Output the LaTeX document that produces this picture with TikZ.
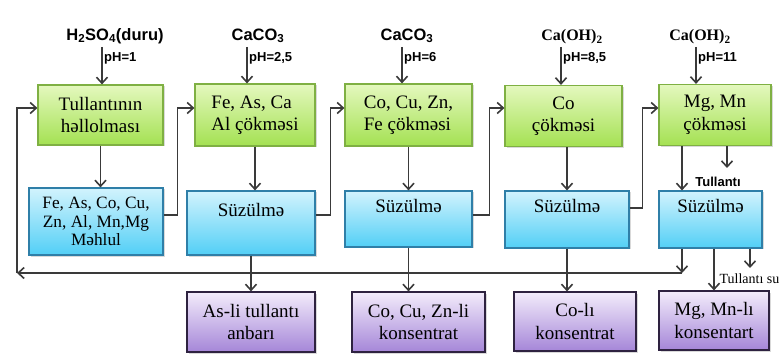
\documentclass[tikz,border=0pt]{standalone}
\usepackage{fontspec}
\setmainfont{Liberation Serif}
\setsansfont{Liberation Sans}
\usetikzlibrary{arrows.meta,shadows}

\definecolor{gtop}{HTML}{E4F8BE}
\definecolor{gbot}{HTML}{A4E152}
\definecolor{gline}{HTML}{7FB043}
\definecolor{btop}{HTML}{D2F3FD}
\definecolor{bbot}{HTML}{52CFF6}
\definecolor{bline}{HTML}{2F7FA8}
\definecolor{ptop}{HTML}{F3ECFB}
\definecolor{pbot}{HTML}{A586D8}
\definecolor{pline}{HTML}{2E2240}
\definecolor{arr}{HTML}{3A3A3A}

\tikzset{
  box/.style={rectangle,line width=1.2pt,align=center,inner sep=2pt,
    font=\fontsize{19}{22.5}\selectfont,
    drop shadow={shadow xshift=1.5pt,shadow yshift=-1.5pt,opacity=0.3}},
  greenbox/.style={box,draw=gline,top color=gtop,bottom color=gbot},
  bluebox/.style={box,draw=bline,top color=btop,bottom color=bbot},
  purplebox/.style={box,draw=pline,top color=ptop,bottom color=pbot},
  filt/.style={text depth=27pt},
  reagent/.style={font=\sffamily\bfseries\fontsize{16.5}{18}\selectfont,inner sep=1pt},
  reagentb/.style={font=\bfseries\fontsize{16}{18}\selectfont,inner sep=1pt},
  ph/.style={font=\sffamily\bfseries\fontsize{13}{14}\selectfont,inner sep=1pt,anchor=west},
  flow/.style={draw=arr,line width=1.6pt,-{Straight Barb[length=6pt,width=11pt]}}
}

\begin{document}
\begin{tikzpicture}[x=1pt,y=-1pt]
  \useasboundingbox (0,0) rectangle (781,355);

  % top row
  \node[greenbox,minimum width=125pt,minimum height=60pt] (G1) at (100.5,115){Tullantının\\həllolması};
  \node[greenbox,align=left,minimum width=120pt,minimum height=62pt] (G2) at (255,115){Fe, As, Ca\\Al çökməsi};
  \node[greenbox,align=left,minimum width=127pt,minimum height=62pt] (G3) at (408.5,115){Co, Cu, Zn,\\Fe çökməsi};
  \node[greenbox,minimum width=117pt,minimum height=61pt] (G4) at (563.5,116){Co\\çökməsi};
  \node[greenbox,minimum width=112pt,minimum height=61pt] (G5) at (715,115){Mg, Mn\\çökməsi};

  % middle row
  \node[bluebox,font=\fontsize{17.3}{18.5}\selectfont,minimum width=134pt,minimum height=67pt] (B1) at (96,221.5){Fe, As, Co, Cu,\\Zn, Al, Mn,Mg\\Məhlul};
  \node[bluebox,filt,minimum width=128pt,minimum height=64pt] (B2) at (251,223){Süzülmə};
  \node[bluebox,filt,minimum width=127pt,minimum height=56pt] (B3) at (408.5,219){Süzülmə};
  \node[bluebox,filt,minimum width=124pt,minimum height=57pt] (B4) at (567,219.5){Süzülmə};
  \node[bluebox,filt,minimum width=103pt,minimum height=57pt] (B5) at (710.5,219.5){Süzülmə};

  % bottom row
  \node[purplebox,minimum width=128pt,minimum height=60pt] (P1) at (251,322){As-li tullantı\\anbarı};
  \node[purplebox,minimum width=133pt,minimum height=60pt] (P2) at (418.5,322){Co, Cu, Zn-li\\konsentrat};
  \node[purplebox,minimum width=122pt,minimum height=59pt] (P3) at (575,321.5){Co-lı\\konsentrat};
  \node[purplebox,minimum width=110pt,minimum height=59pt] (P4) at (714,320.5){Mg, Mn-lı\\konsentart};

  % reagents
  \node[reagent] (R1) at (115,36){H\textsubscript{2}SO\textsubscript{4}(duru)};
  \node[reagent] (R2) at (258,36){CaCO\textsubscript{3}};
  \node[reagent] (R3) at (407,36){CaCO\textsubscript{3}};
  \node[reagentb] (R4) at (572,37){Ca(OH)\textsubscript{2}};
  \node[reagentb] (R5) at (700,37){Ca(OH)\textsubscript{2}};
  \coordinate (a1) at (102,47);
  \coordinate (a2) at (247,47);
  \coordinate (a3) at (402,47);
  \coordinate (a4) at (561,47);
  \coordinate (a5) at (696,47);
  \node[ph] (ph1) at ([xshift=1pt]a1 |- 0,58){pH=1};
  \node[ph] (ph2) at ([xshift=1pt]a2 |- 0,58){pH=2,5};
  \node[ph] (ph3) at ([xshift=1pt]a3 |- 0,58){pH=6};
  \node[ph] (ph4) at ([xshift=1pt]a4 |- 0,58){pH=8,5};
  \node[ph] (ph5) at ([xshift=1pt]a5 |- 0,58){pH=11};

  \draw[flow] (a1) -- (a1 |- G1.north);
  \draw[flow] (a2) -- (a2 |- G2.north);
  \draw[flow] (a3) -- (a3 |- G3.north);
  \draw[flow] (a4) -- (a4 |- G4.north);
  \draw[flow] (a5) -- (a5 |- G5.north);

  % down to filtration
  \draw[flow] (G1.south) -- (G1.south |- B1.north);
  \draw[flow] (G2.south) -- (G2.south |- B2.north);
  \draw[flow] (G3.south) -- (G3.south |- B3.north);
  \draw[flow] (B4.north |- G4.south) -- (B4.north);
  \coordinate (g5) at (682,145);
  \draw[flow] (g5 |- G5.south) -- (g5 |- B5.north);
  \coordinate (t5) at (727,168);
  \draw[flow] (t5 |- G5.south) -- (t5);
  \node[font=\sffamily\bfseries\fontsize{13}{14}\selectfont,inner sep=1pt] (tul) at (718,182){Tullantı};

  % forward to next step
  \draw[flow] ([yshift=6.5pt]B1.east) -- ++(14,0) |- ([yshift=7pt]G2.west);
  \draw[flow] ([yshift=8pt]B2.east) -- ++(15,0) |- ([yshift=7pt]G3.west);
  \draw[flow] ([yshift=4pt]B3.east) -- ++(17,0) |- ([yshift=8pt]G4.west);
  \draw[flow] ([yshift=11.5pt]B4.east) -- ++(13,0) |- ([yshift=7pt]G5.west);

  % recycle line
  \coordinate (c5) at (682,273);
  \coordinate (cL) at (17,273);
  \draw[flow] (c5 |- B5.south) -- (c5);
  \draw[flow] (c5) -- (cL);
  \draw[flow] (cL) |- ([yshift=7pt]G1.west);

  % products
  \draw[flow] (B2.south) -- (B2.south |- P1.north);
  \draw[flow] (B3.south) -- (B3.south |- P2.north);
  \draw[flow] (B4.south) -- (B4.south |- P3.north);
  \draw[flow] (P4.north |- B5.south) -- (P4.north);
  \coordinate (w5) at (750,268);
  \draw[flow] (w5 |- B5.south) -- (w5);
  \node[font=\fontsize{14}{15}\selectfont,inner sep=1pt] (tsu) at (749.5,279){Tullantı su};

\end{tikzpicture}
\end{document}
